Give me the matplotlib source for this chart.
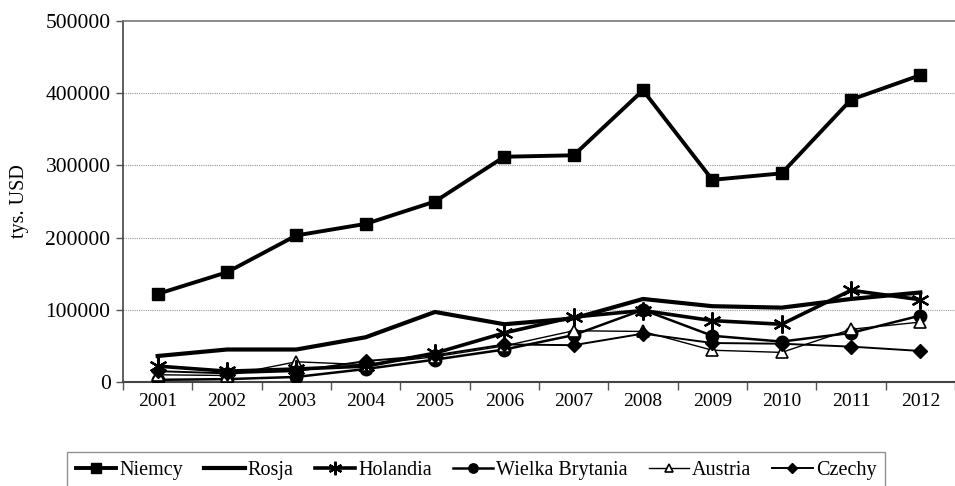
import matplotlib
matplotlib.use("Agg")
import matplotlib.pyplot as plt
import numpy as np

years = [2001, 2002, 2003, 2004, 2005, 2006, 2007, 2008, 2009, 2010, 2011, 2012]
niemcy = [122000, 152000, 203000, 219000, 250000, 312000, 314000, 404000, 280000, 289000, 391000, 425000]
rosja = [36000, 45000, 45000, 62000, 97000, 80000, 88000, 115000, 105000, 103000, 115000, 124000]
holandia = [22000, 15000, 18000, 22000, 40000, 68000, 90000, 99000, 85000, 80000, 127000, 114000]
wielka_brytania = [3000, 4000, 7000, 18000, 31000, 45000, 65000, 100000, 64000, 56000, 68000, 92000]
austria = [10000, 9000, 28000, 24000, 35000, 50000, 71000, 70000, 44000, 41000, 73000, 83000]
czechy = [15000, 12000, 15000, 29000, 37000, 52000, 51000, 67000, 54000, 53000, 49000, 43000]
y_ticks = [0, 100000, 200000, 300000, 400000, 500000]

plt.rcParams['font.family'] = ['Liberation Serif', 'DejaVu Serif']

fig = plt.figure(figsize=(9.55, 4.86), dpi=100)
ax = fig.add_axes([123/955, 1-382/486, 1-123/955, (382-21)/486])

ax.plot(years, niemcy, color='black', lw=2.8, marker='s', markersize=9, label='Niemcy', zorder=5)
ax.plot(years, rosja, color='black', lw=3.0, label='Rosja', zorder=4)
ax.plot(years, holandia, color='black', lw=2.6, marker=(6, 2, 0), markersize=13, markeredgewidth=1.6, label='Holandia', zorder=4)
ax.plot(years, wielka_brytania, color='black', lw=1.8, marker='o', markersize=9, label='Wielka Brytania', zorder=3)
ax.plot(years, austria, color='black', lw=1.0, marker='^', markersize=8, markerfacecolor='white', markeredgewidth=1.2, label='Austria', zorder=3)
ax.plot(years, czechy, color='black', lw=1.4, marker='D', markersize=7, label='Czechy', zorder=3)

ax.set_xlim(2000.5, 2000.5 + (955-123)/70)
ax.set_ylim(0, 500000)
ax.set_yticks(y_ticks)
ax.set_yticklabels([str(v) for v in y_ticks])
ax.set_xticks(years)
ax.set_xticklabels([str(y) for y in years])
ax.set_xticks([y - 0.5 for y in years] + [2012.5], minor=True)
ax.tick_params(axis='x', which='major', length=0, pad=8, labelsize=14)
ax.tick_params(axis='x', which='minor', length=6, width=1, color='#555555', direction='out')
ax.tick_params(axis='y', length=5, width=1, color='#555555', direction='out', labelsize=15.5, pad=4)

for v in y_ticks[1:-1]:
    ax.axhline(v, color='#999999', lw=0.8, ls=(0, (1, 1)), zorder=1)

ax.spines['right'].set_visible(False)
ax.spines['top'].set_color('#777777')
ax.spines['top'].set_linewidth(1.2)
ax.spines['left'].set_color('#444444')
ax.spines['left'].set_linewidth(1.2)
ax.spines['bottom'].set_color('#444444')
ax.spines['bottom'].set_linewidth(1.5)

ax.set_ylabel('tys. USD', fontsize=14.5, labelpad=12)

leg = fig.legend(loc='upper left', bbox_to_anchor=(57/955, 1-442/486), ncol=6,
                 fontsize=14.5, frameon=True, fancybox=False, handlelength=2.0,
                 handletextpad=0.15, columnspacing=1.05, borderpad=0.45, markerscale=0.75)
leg.get_frame().set_edgecolor('#777777')
leg.get_frame().set_linewidth(1.0)

fig.savefig('out.png', dpi=100)
